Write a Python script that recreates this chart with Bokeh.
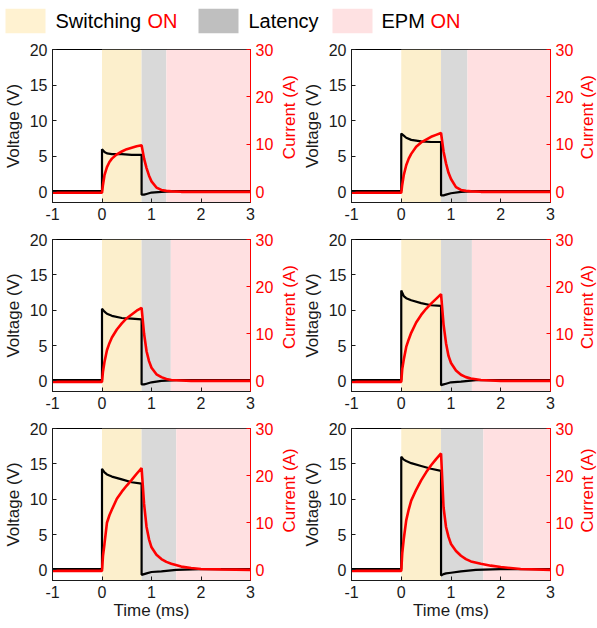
import math
from bokeh.plotting import figure
from bokeh.models import Range1d, LinearAxis, BoxAnnotation, FixedTicker
from bokeh.layouts import column, row
from bokeh.embed import file_html
from bokeh.resources import INLINE
from bokeh.core.properties import value

FONT = "Liberation Sans"

# ---------------- data ----------------
x_ticks = [-1, 0, 1, 2, 3]
v_ticks = [0, 5, 10, 15, 20]
i_ticks = [0, 10, 20, 30]

switch_start = 0.0
switch_end = 0.8
latency_end = [1.30, 1.33, 1.39, 1.42, 1.50, 1.65]

# voltage samples (time in ms, repeated times = vertical steps)
t_v = [-1.0, 0.0, 0.0, 0.05, 0.1, 0.2, 0.4, 0.6, 0.8, 0.8, 0.85, 0.9, 1.0, 1.2, 1.5, 2.0, 3.0]
v1 = [0.1, 0.1, 6.0, 5.6, 5.4, 5.3, 5.3, 5.2, 5.2, -0.4, -0.4, -0.3, -0.1, 0.0, 0.1, 0.1, 0.1]
v2 = [0.1, 0.1, 8.2, 7.9, 7.6, 7.3, 7.1, 7.0, 7.0, -0.5, -0.5, -0.4, -0.2, 0.0, 0.1, 0.1, 0.1]
v3 = [0.1, 0.1, 10.2, 9.8, 9.5, 9.2, 8.9, 8.8, 8.7, -0.5, -0.5, -0.4, -0.2, 0.0, 0.1, 0.1, 0.1]
v4 = [0.1, 0.1, 12.8, 12.0, 11.7, 11.4, 11.0, 10.7, 10.6, -0.6, -0.5, -0.4, -0.2, -0.1, 0.1, 0.1, 0.1]
v5 = [0.1, 0.1, 14.3, 13.8, 13.5, 13.2, 12.8, 12.4, 12.2, -0.7, -0.6, -0.5, -0.3, -0.2, 0.0, 0.1, 0.1]
v6 = [0.1, 0.1, 16.0, 15.6, 15.4, 15.1, 14.7, 14.3, 14.0, -0.8, -0.6, -0.5, -0.4, -0.2, 0.0, 0.1, 0.1]

# current samples
t_i = [-1.0, 0.0, 0.02, 0.05, 0.1, 0.15, 0.2, 0.3, 0.4, 0.5, 0.6, 0.7, 0.8,
       0.85, 0.9, 0.95, 1.0, 1.1, 1.2, 1.3, 1.4, 1.6, 1.8, 2.0, 2.4, 3.0]
i1 = [-0.2, -0.2, 1.5, 3.5, 5.2, 6.3, 7.0, 7.9, 8.5, 9.0, 9.3, 9.6, 9.8,
      7.0, 5.0, 3.4, 2.2, 0.9, 0.4, 0.2, 0.1, 0.0, 0.0, 0.0, 0.0, 0.0]
i2 = [-0.2, -0.2, 1.5, 3.5, 5.6, 7.0, 8.0, 9.5, 10.4, 11.0, 11.6, 12.0, 12.4,
      8.5, 6.0, 4.0, 2.7, 1.0, 0.4, 0.2, 0.1, 0.0, 0.0, 0.0, 0.0, 0.0]
i3 = [-0.2, -0.2, 2.0, 4.0, 6.5, 8.0, 9.2, 10.9, 12.2, 13.3, 14.1, 14.9, 15.5,
      10.0, 6.3, 4.2, 2.8, 1.4, 0.8, 0.4, 0.2, 0.1, 0.0, 0.0, 0.0, 0.0]
i4 = [-0.2, -0.2, 2.5, 4.5, 7.2, 8.8, 10.2, 12.4, 14.0, 15.3, 16.4, 17.4, 18.4,
      12.0, 8.0, 5.3, 3.8, 2.2, 1.3, 0.8, 0.5, 0.2, 0.1, 0.0, 0.0, 0.0]
i5 = [-0.2, -0.2, 3.0, 5.5, 10.0, 11.6, 12.8, 15.1, 16.6, 17.9, 19.1, 20.4, 21.6,
      14.0, 9.1, 6.5, 4.8, 3.2, 2.3, 1.7, 1.3, 0.7, 0.4, 0.2, 0.1, 0.0]
i6 = [-0.2, -0.2, 3.5, 6.5, 10.5, 12.8, 14.7, 17.0, 19.0, 20.7, 22.2, 23.5, 24.7,
      13.3, 9.1, 7.0, 5.5, 4.0, 3.0, 2.3, 1.8, 1.3, 0.9, 0.6, 0.2, 0.0]

voltages = [v1, v2, v3, v4, v5, v6]
currents = [i1, i2, i3, i4, i5, i6]

legend_labels = ["Switching", "Latency", "EPM"]
legend_suffix = ["ON", "ON"]
y_label = "Voltage (V)"
y2_label = "Current (A)"
x_label = "Time (ms)"

# ---------------- styles ----------------
YEL = "#fcefcc"
GRY = "#d9d9d9"
PNK = "#ffe0e1"
LEG_COLORS = ["#fff2d1", "#bfbfbf", "#fee1e2"]
RED = "#ff0000"
INK = "#1a1a1a"

ROW_TOP = [8, 9, 9]
ROW_FH = [153, 152, 152]
ROW_BOTTOM = [28, 28, 45]
COL_LEFT = [52, 52]
COL_FW = [198, 199]
COL_RIGHT = [28, 27]
LAB_W = [21, 20]


def style_axis(ax, color):
    ax.major_tick_in = 4
    ax.major_tick_out = 0
    ax.minor_tick_line_color = None
    ax.axis_line_color = color
    ax.major_tick_line_color = color
    ax.major_label_text_color = color
    ax.axis_label_text_color = color
    ax.major_label_text_font = FONT
    ax.axis_label_text_font = FONT
    ax.major_label_text_font_size = "16px"
    ax.axis_label_text_font_size = "17px"
    ax.axis_label_text_font_style = "normal"
    ax.major_label_standoff = 5


def make_panel(k, col, rw):
    p = figure(frame_width=COL_FW[col], frame_height=ROW_FH[rw],
               min_border_left=COL_LEFT[col], min_border_right=COL_RIGHT[col],
               min_border_top=ROW_TOP[rw], min_border_bottom=ROW_BOTTOM[rw],
               x_range=Range1d(-1, 3), y_range=Range1d(-1.5, 20),
               output_backend="svg", toolbar_location=None)
    p.extra_y_ranges = {"cur": Range1d(-2.25, 30)}
    p.xgrid.visible = False
    p.ygrid.visible = False
    p.outline_line_color = "black"
    p.outline_line_width = 1
    p.background_fill_color = "white"
    p.border_fill_color = "white"

    p.add_layout(BoxAnnotation(left=switch_start, right=switch_end, fill_color=YEL,
                               fill_alpha=1, line_color=None, level="underlay"))
    p.add_layout(BoxAnnotation(left=switch_end, right=latency_end[k], fill_color=GRY,
                               fill_alpha=1, line_color=None, level="underlay"))
    p.add_layout(BoxAnnotation(left=latency_end[k], right=x_ticks[-1], fill_color=PNK,
                               fill_alpha=1, line_color=None, level="underlay"))

    p.line(t_v, voltages[k], color="black", line_width=2.2)
    p.line(t_i, currents[k], color=RED, line_width=2.6, y_range_name="cur")

    rax = LinearAxis(y_range_name="cur", ticker=FixedTicker(ticks=i_ticks))
    p.add_layout(rax, "right")

    lax = p.left[0]
    lax.ticker = FixedTicker(ticks=v_ticks)
    lax.axis_label = y_label
    bax = p.below[0]
    bax.ticker = FixedTicker(ticks=x_ticks)
    bax.major_label_overrides = {t: str(t) for t in x_ticks}
    if rw == 2:
        bax.axis_label = x_label
        bax.axis_label_standoff = 0
    style_axis(lax, INK)
    style_axis(bax, INK)
    style_axis(rax, RED)
    lax.axis_label_standoff = 4
    return p


def make_right_title(col, rw):
    h = ROW_TOP[rw] + ROW_FH[rw] + ROW_BOTTOM[rw]
    w = LAB_W[col]
    f = figure(width=w, height=h, x_range=Range1d(0, w), y_range=Range1d(0, h),
               x_axis_type=None, y_axis_type=None, min_border=0,
               output_backend="svg", toolbar_location=None)
    f.grid.visible = False
    f.outline_line_color = None
    f.background_fill_color = "white"
    f.border_fill_color = "white"
    cy = h - (ROW_TOP[rw] + ROW_FH[rw] / 2 - 1)
    f.text(x=[w / 2], y=[cy], text=[y2_label], angle=math.pi / 2,
           text_align="center", text_baseline="middle", text_color=RED,
           text_font=value(FONT), text_font_size="17px")
    return f


rows = []
for rw in range(3):
    items = []
    for col in range(2):
        k = rw * 2 + col
        items.append(make_panel(k, col, rw))
        items.append(make_right_title(col, rw))
    rows.append(row(*items))

# ---------------- legend strip ----------------
LEG_W, LEG_H = 597, 41
leg = figure(width=LEG_W, height=LEG_H, x_range=Range1d(0, LEG_W), y_range=Range1d(0, LEG_H),
             x_axis_type=None, y_axis_type=None, min_border=0,
             output_backend="svg", toolbar_location=None)
leg.grid.visible = False
leg.outline_line_color = None
leg.background_fill_color = "white"
leg.border_fill_color = "white"

patch_left = [5, 198, 332]
patch_w = 40
text_x = [55, 248, 381]
suffix_x = [147, 430]
leg.quad(left=patch_left, right=[x + patch_w for x in patch_left], bottom=8.3, top=32.7,
         fill_color=LEG_COLORS, line_color=None)
leg.text(x=text_x, y=[20.5] * 3, text=legend_labels, text_color="black",
         text_font=value(FONT), text_font_size="20px", text_baseline="middle")
leg.text(x=suffix_x, y=[20.5] * 2, text=legend_suffix, text_color=RED,
         text_font=value(FONT), text_font_size="20px", text_baseline="middle")

layout = column(leg, *rows)

open("out.html", "w").write(file_html(layout, INLINE))
